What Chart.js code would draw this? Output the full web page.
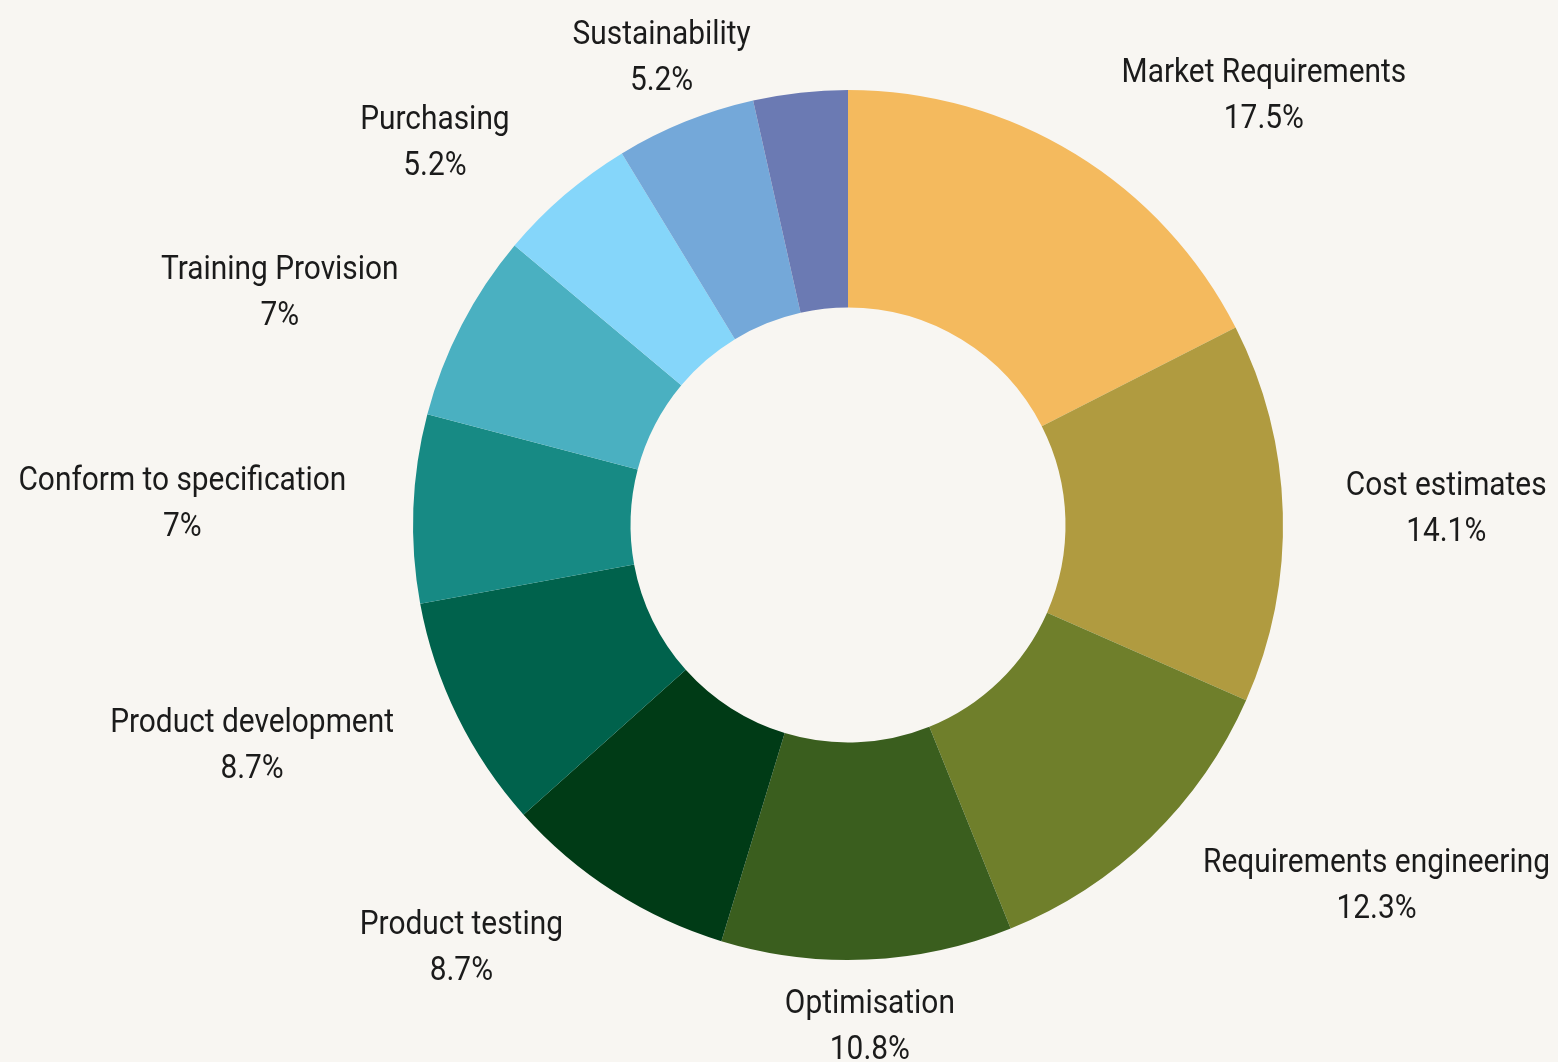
<!DOCTYPE html>
<html>
<head>
<meta charset="utf-8">
<script src="https://cdn.jsdelivr.net/npm/chart.js@4.4.1/dist/chart.umd.min.js"></script>
<style>
  html, body { margin: 0; padding: 0; background: #F8F6F2; }
  #wrap { width: 1558px; height: 1062px; position: relative; }
</style>
</head>
<body>
<div id="wrap"><canvas id="c"></canvas></div>
<script>
const categories = [
  "Market Requirements", "Cost estimates", "Requirements engineering", "Optimisation",
  "Product testing", "Product development", "Conform to specification", "Training Provision",
  "Purchasing", "Sustainability", "Other"
];
const values = [17.5, 14.1, 12.3, 10.8, 8.7, 8.7, 7, 7, 5.2, 5.2, 3.5];
const sliceColors = [
  "#F4BA5E", "#B09B40", "#6F7F2B", "#3A5E1E", "#003B16", "#00624C",
  "#178A84", "#4AB0C1", "#85D6FA", "#74A8D9", "#6B7AB3"
];
const minLabelValue = 4;

const TEXT_SCALE_X = 0.905;
const FONT = "33px Roboto";
const LINE_GAP = 46;

const outsideLabels = {
  id: "outsideLabels",
  afterDatasetsDraw(chart) {
    const ctx = chart.ctx;
    const meta = chart.getDatasetMeta(0);
    ctx.save();
    ctx.font = FONT;
    ctx.fillStyle = "#1b1b1b";
    ctx.textAlign = "center";
    ctx.textBaseline = "alphabetic";
    meta.data.forEach((arc, i) => {
      const v = values[i];
      if (v < minLabelValue) return;
      const p = arc.getProps(["x", "y", "startAngle", "endAngle", "outerRadius"], true);
      const mid = (p.startAngle + p.endAngle) / 2;
      const cos = Math.cos(mid), sin = Math.sin(mid);
      const r = p.outerRadius + 35;
      const ax = p.x + r * cos, ay = p.y + r * sin;
      const lines = [categories[i], v + "%"];
      const w = Math.max(...lines.map(t => ctx.measureText(t).width)) * TEXT_SCALE_X;
      let cx;
      if (cos > 0.45) cx = ax + 28 + w / 2;
      else if (cos < -0.45) cx = ax - 32 - w / 2;
      else cx = ax + cos * w * 0.16;
      const cy = ay + sin * 31 - (sin < 0 ? 3 : 0);
      const base1 = cy - 13;
      lines.forEach((t, k) => {
        ctx.save();
        ctx.translate(cx, base1 + k * LINE_GAP);
        ctx.scale(TEXT_SCALE_X, 1);
        ctx.fillText(t, 0, 0);
        ctx.restore();
      });
    });
    ctx.restore();
  }
};

const bgPlugin = {
  id: "bg",
  beforeDraw(chart) {
    const ctx = chart.ctx;
    ctx.save();
    ctx.fillStyle = "#F8F6F2";
    ctx.fillRect(0, 0, chart.width, chart.height);
    ctx.restore();
  }
};

new Chart(document.getElementById("c"), {
  type: "doughnut",
  data: {
    labels: categories,
    datasets: [{
      data: values,
      backgroundColor: sliceColors,
      borderWidth: 0
    }]
  },
  options: {
    responsive: true,
    maintainAspectRatio: false,
    animation: false,
    cutout: "50%",
    layout: { padding: { left: 413, right: 275, top: 90, bottom: 102 } },
    plugins: {
      legend: { display: false },
      tooltip: { enabled: false }
    }
  },
  plugins: [bgPlugin, outsideLabels]
});
</script>
</body>
</html>
